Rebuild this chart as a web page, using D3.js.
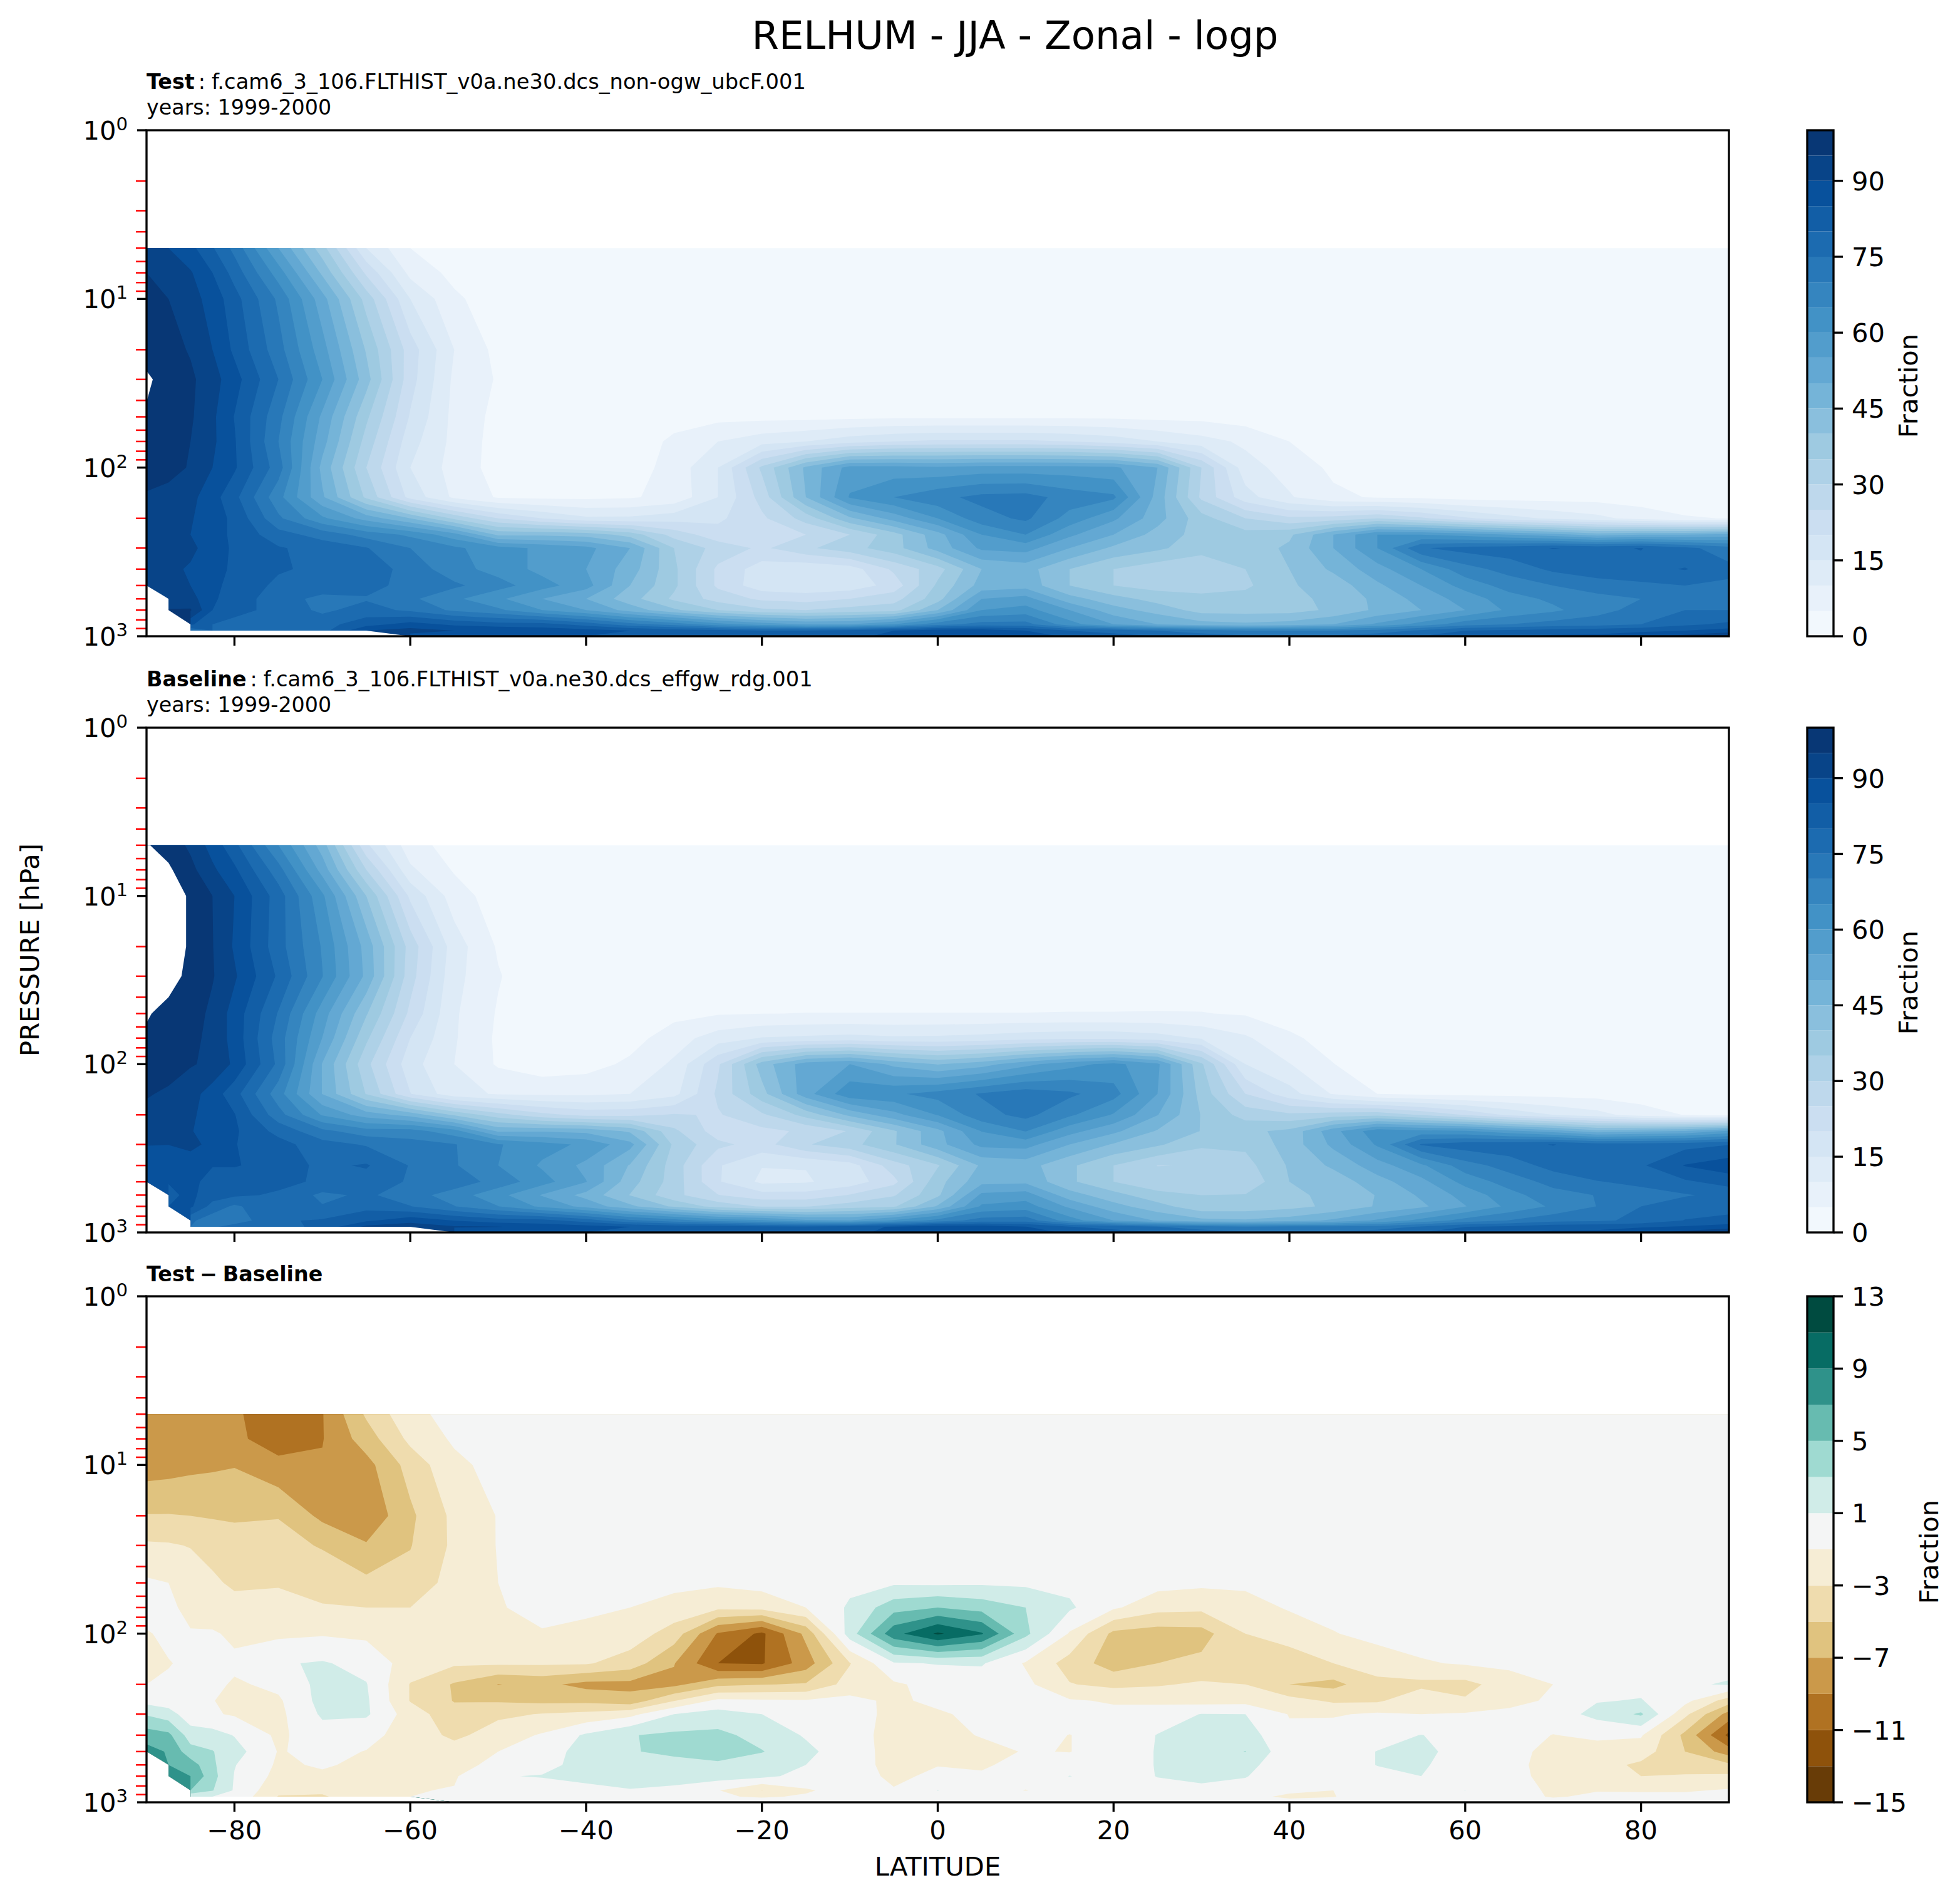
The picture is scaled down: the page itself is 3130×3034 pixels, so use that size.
<!DOCTYPE html>
<html><head><meta charset="utf-8">
<style>html,body{margin:0;padding:0;background:#fff}svg{display:block}text{font-family:"DejaVu Sans";fill:#000}</style>
<script src="https://cdn.jsdelivr.net/npm/d3@7"></script></head><body>
<script>
const latitudes=[-90,-87.5,-85,-82.5,-80,-75,-70,-65,-60,-55,-50,-45,-40,-35,-30,-25,-20,-15,-10,-5,0,5,10,15,20,25,30,35,40,45,50,55,60,65,70,75,80,85,90];
const pressureLevels=[5,7,10,20,30,50,70,100,150,200,250,300,400,500,600,700,850,925,1000];
const testValues=[
[93,90,86.5,80.5,73.5,55,37,15,5,2.5,1,1,1,1,1,1,1,1,1,1,1,1,1,1,1,1,1,1,1,1,1,1,1,1,1,1,1,1,1],
[95,93,90.5,85,78,62.5,44,24,8.5,3.5,1.5,1,1,1,1,1,1,1,1,1,1,1,1,1,1,1,1,1,1,1,1,1,1,1,1,1,1,1,1],
[97.6,95,92,88,82,69,52,33,15,6,2,1,1,1,1,1,1,1,1,1,1,1,1,1,1,1,1,1,1,1,1,1,1,1,1,1,1,1,1],
[98.5,97,94.5,90,84,72,57,39.5,22.5,10,3.5,1,1,1,1,1,1,1,1,1,1,1,1,1,1,1,1,1,1,1,1,1,1,1,1,1,1,1,1],
[100.6,98.5,96,92,87,75,60,42,22,9,4.5,1,1,1,1,1,1,1,1,1,1,1,1,1,1,1,1,1,1,1,1,1,1,1,1,1,1,1,1],
[99.6,98,95.7,91,84.8,71.5,54,36,19.5,8.5,3.5,1.2,1,1.5,3,3.5,3.5,3.5,3.8,4,4,4,4,4,4,3.5,3.5,2.5,2,1.2,1,1,1,1,1,1,1,1,1],
[99.5,97.5,95,91,85.5,70,52,33,17,8.5,3,1.2,1,2,6,10,13,15,18,20,21,21,21,20,18,15,12,9,5,3,1.5,1,1,1,1,1,1,1,1],
[99,97,94.5,90,85.7,72.4,48.5,30,15,8,3,1.2,1.2,2.5,7,15,31,46,57,57,56,57,57,57,56,50,30,12,8,4,2,1,1,1,1,1,1,1,1],
[94,93,91.5,87,81.5,66.7,50.8,34,18.3,9,4.5,4,4,4.5,6.5,15,27,45,60.5,65,68.5,71.5,72,68,66,48,29,17,10.5,6,4.5,4,3,3,3,3,2.5,2,2],
[92.5,91,90.5,87,84,71,61,53,45,34,25,20,16,16,18,19,24,32,44,52,60,68,71,63,56,47,37,30,26,27,30,26,21,17,14,11.5,8,5.5,4.8],
[90.5,90.5,90,87,84,77,73,68,64,57,44,44,43,38,28,22,23,25,30,38,48,60,65,56,50,43,38,37,39,50,60,60,58,55,52,48,50,50,52],
[93,92,91,88,84,80.5,78,75.3,70,66,62,59,56.5,50,35,28,24,29,33,38,47,56,57,50,44,41,37,37,41,50,60,74.5,77,78,80.2,79,80.2,76.5,72],
[93,91,89.5,87,84,80.5,79,78,73,67,63,58.5,55,47.5,36,24,17.5,16,17.5,26,33,45,47,40,35,32,31,35,40,46,53,60,68,72,76,77.5,78.5,80.3,76.5],
[93,92,90,86.5,83,79,79,77,73,71,67,62,57,45,36,24,17,16,17,22,36,47,48,40,35,33,32,34,39.5,42,49,55,62,67,70,73,74,75,74],
[null,91,92,86,82,78,73,74.5,71,66,61,55,50,42,34,28,24,23,25,28,38,55,57,47,42,38,37,37,37.8,42,46,52,57,63,66,68,70,71,72],
[null,95.5,95.5,85,82,78,74,77,74,69,66,60,55,48,41,35,31,30,32,33,45,60,62,55,47,43,38,38,38,41,46,50,55,61,64,68,72,75,75],
[null,null,86,80,78,77,78,83,87,84,82,82,78,72,68,62,58,55,55,60,68,72,72,62,55,50,47,46,47,50,56,62,68,70,72,73,75,79,81],
[null,null,76,80,78,75,78,90,92,90,90,88,87,85,83,82,80,80,82,85,88,88,85,80,78,75,72,70,70,70,72,76,80,81,82,83,84,85,87],
[null,null,null,null,null,null,null,null,88,87,86,86,85,84,83,82,82,82,84,86,88,90,88,84,82,80,78,76,76,76,78,80,84,84,86,86,88,92,96]];
const baselineValues=[
[100.4,98,94,88,81.5,65,47.5,21,7,3,1.2,1,1,1,1,1,1,1,1,1,1,1,1,1,1,1,1,1,1,1,1,1,1,1,1,1,1,1,1],
[101.5,100.8,96.5,91,86,72,53,30,11,4.5,1.8,1,1,1,1,1,1,1,1,1,1,1,1,1,1,1,1,1,1,1,1,1,1,1,1,1,1,1,1],
[104,102,99.5,95,90,77.5,61,40,19,7.5,2.3,1,1,1,1,1,1,1,1,1,1,1,1,1,1,1,1,1,1,1,1,1,1,1,1,1,1,1,1],
[103.4,102,99.5,95.2,89.4,77.1,64.5,48.1,27.9,12.5,4.4,1.2,1,1,1,1,1,1,1,1,1,1,1,1,1,1,1,1,1,1,1,1,1,1,1,1,1,1,1],
[103.3,101.3,99.1,95.4,90.7,79.2,65.2,48.8,27.1,11.6,5.4,1.2,1,1,1,1,1,1,1,1,1,1,1,1,1,1,1,1,1,1,1,1,1,1,1,1,1,1,1],
[100.3,99,97.5,93.8,88,74.6,57.5,40.5,23.8,10.7,4.5,1.4,1.1,1.2,3.5,4.6,4.9,5.1,5.1,5.1,5.1,5.1,5.1,5.2,5.2,5.3,5.2,4.5,3,1.5,1,1,1,1,1,1,1,1,1],
[99.5,98.2,96.4,93.6,88.1,72.6,54.9,36,20,10.5,4.1,1.8,1.7,3,7.7,12.5,15.3,16,16.7,15.8,16,16.8,18,18.7,18.7,17.3,14.5,10.8,5.8,3.3,1.6,1,1,1,1,1,1,1,1],
[99.5,97.5,95.4,94,89,73.8,49.7,31.4,17,10,4.4,2,3,6,10.9,24.2,42.4,52.5,55,48.7,44.7,47.8,53.5,58.2,61.5,56,35.8,15,10.2,5.1,2.4,1.1,1,1,1,1,1,1,1],
[95.5,94.1,92.1,87.6,82,67.2,49.8,34.7,20.2,11.7,9.5,9,9,10,13.4,26,38.2,53,63.6,64.2,66.9,70.5,73,71,67,55,38,25,17,9.5,5,4,3.5,3.5,3.2,3,2.5,1.9,1.8],
[93.5,91.7,91,87.4,85.3,72,59.5,52.6,48.1,39.2,32,26.5,23.6,23.6,25.5,24.5,29.1,36.8,46.2,53.3,60.3,68.2,71.5,65.9,59.5,50.2,39.7,33,31,32.6,33.6,29.5,24.6,19,15,11.9,7.5,4.8,3.6],
[90.2,90.6,90.3,87.9,85.8,78.3,71.4,67.1,67.1,62.1,49.2,49.5,48.5,44.2,31.1,22.5,23.7,25.8,30.4,39.4,48.5,60.2,65.2,56.8,51.2,44.5,39.8,38.7,41.3,53.3,63.3,61.6,60.8,56.6,52.7,47.1,48.9,50.4,56],
[90.2,90.1,91.2,88.8,85.2,82,76.9,74.5,72,70.3,65.4,61.9,59,51.6,34,26.2,23,29.5,33.2,39.5,48.3,56.4,57,50,44.5,40.8,36,36,42.1,51.2,60.7,75.5,77.8,78.5,80.2,77.4,77.4,78.3,79.8],
[87,85.5,87.5,85.2,85.5,82.3,79,80.5,74.7,70.5,65,59.3,53.7,44.6,32.6,20.5,15.2,15.2,17.8,27.6,34.5,45.9,47.1,41,35,29.9,30.2,33.2,40.6,46,52.8,59,67.8,72.2,76.9,78.1,79.3,85.3,88],
[85.2,85.2,86.2,83.4,81.2,81.3,79.2,78,74.4,73,68,62,55.2,42.1,32.7,20.5,13.9,14.5,17.2,23.6,38,48.5,48.9,41,35,31.6,30.5,31,40,42,48,53.5,61.8,67.2,71.7,74.8,76,79.2,82],
[null,84,86,82.6,80.9,79.3,73.8,75.9,72.3,67.5,61.6,54.6,48.3,39.8,31.5,25.2,22.1,22,25.3,29.5,39,56.2,57.5,47.2,42,36.6,35,35.3,38.3,42,45.2,50.8,56.8,63.2,68,70.2,73.4,74.5,76.6],
[null,85,86,78,74,79.6,75.3,78.3,75.2,70.2,65.1,58.9,53.4,46.2,39.1,33.1,29.5,29.7,32.3,34.3,45.7,60.8,62.3,54,46.8,42,36.5,37,38.3,41.2,45.5,49,54.8,61.2,65.8,70.1,75,77.8,77.6],
[null,null,76,72,72,79.5,80.5,84.1,88.1,84.9,82.3,81.8,77.6,71.1,67.5,62.9,61,56.2,55.3,60.9,67,72.3,73,62.3,55,49.5,46.5,45.7,47.5,51,55.8,61.7,67,70.2,73.3,74.1,76.2,80.2,81.8],
[null,null,75,74,77.5,78.1,81.3,91.3,93,90.5,90.2,88.2,87.2,85,83,82.8,81.2,80.8,82.3,85.7,88.2,88.2,85.2,80.2,78.2,75.2,72.1,70.2,71.5,71.1,71.7,75.7,79.9,81.1,83.2,83.6,84.5,85.5,87.3],
[null,null,null,null,null,null,null,null,null,87,86,86,85,84,83,82,82,82,84,86,88,90,88,84,82,80,78,76,76,76,78,80,84,84,86,86,88,92,96]];
const differenceValues=[
[-8,-8.2,-8.4,-8.6,-8.8,-9.8,-9.1,-4.7,-1.5,-.4,-.1,0,0,0,0,0,0,0,0,0,0,0,0,0,0,0,0,0,0,0,0,0,0,0,0,0,0,0,0],
[-8,-8,-8,-8.2,-8.6,-9.9,-9.1,-6,-2.5,-.7,-.2,0,0,0,0,0,0,0,0,0,0,0,0,0,0,0,0,0,0,0,0,0,0,0,0,0,0,0,0],
[-8,-7.8,-7.5,-7.3,-7.1,-8.5,-8.8,-7.7,-4.2,-1.5,-.3,0,0,0,0,0,0,0,0,0,0,0,0,0,0,0,0,0,0,0,0,0,0,0,0,0,0,0,0],
[-4.9,-4.9,-5,-5.2,-5.4,-5.1,-7.5,-8.6,-5.4,-2.5,-.9,-.2,0,0,0,0,0,0,0,0,0,0,0,0,0,0,0,0,0,0,0,0,0,0,0,0,0,0,0],
[-2.7,-2.8,-3.1,-3.4,-3.7,-4.2,-5.2,-6.8,-5.1,-2.6,-.9,-.2,0,0,0,0,0,0,0,0,0,0,0,0,0,0,0,0,0,0,0,0,0,0,0,0,0,0,0],
[-.7,-1,-1.8,-2.8,-3.2,-3.1,-3.5,-4.5,-4.3,-2.2,-1,-.2,-.1,-.1,-.5,-.7,-.3,-.2,.5,.7,.6,.7,.6,.5,-.1,-.3,-.6,-.6,-.3,-.1,0,0,0,0,0,0,0,0,0],
[0,-.7,-1.4,-2.6,-2.6,-2.6,-2.9,-3,-3,-2,-1.1,-.6,-.7,-1,-1.7,-2.5,-2.3,-1,1.3,4.2,5,4.2,3,1.3,-.7,-2.3,-2.5,-1.8,-.8,-.3,-.1,0,0,0,0,0,0,0,0],
[-1.2,-.5,-.9,-.7,-1.5,-1.4,-1.2,-1.4,-2,-2,-1.4,-1.1,-1.4,-1.9,-3.9,-9.2,-11.4,-6.5,2,8.3,11.3,9.2,3.5,-1.2,-5.5,-6,-5.8,-3,-2.2,-1.1,-.4,-.1,0,0,0,0,0,0,0],
[-1.5,-1.1,-.6,-.6,-.5,.8,1.2,.3,-1.9,-2.7,-2.7,-2.7,-2.8,-3.9,-6.9,-11,-11.2,-8,-3.1,.8,1.1,1.2,-1.2,-3.8,-6,-5,-4.5,-4.6,-4,-3,-2,-1.2,-.8,-.5,-.2,0,0,.1,.2],
[-1,-.7,-.5,-.4,-1.3,-.5,1.6,1.1,-3.1,-5.2,-7.05,-6.5,-7.6,-7.6,-7.5,-5.5,-5.1,-4.8,-2.2,-1.3,-.3,-.2,-.5,-2.9,-3.5,-3.2,-2.7,-3,-5,-5.6,-3.6,-3.5,-3.6,-2,-1,-.4,.5,.7,1.2],
[.3,-.1,-.3,-.9,-1.8,-1.3,1.7,1.3,-3.1,-5.1,-5.2,-5.5,-5.5,-6.2,-3.1,-.5,-.7,-.8,-.4,-1.4,-.5,-.2,-.2,-.8,-1.2,-1.5,-1.8,-1.7,-2.3,-3.3,-3.3,-1.6,-2.8,-1.6,-.7,.9,1.1,-.4,-4],
[2.8,1.9,-.2,-.8,-1.2,-1.5,1.3,1.3,-2,-4.3,-3.4,-2.9,-2.5,-1.6,1,1.8,1,-.5,-.2,-1.5,-1.3,-.4,0,0,-.5,.2,1.05,1,-1.1,-1.2,-.7,-1,-.8,-.5,0,1.6,3.3,-2.5,-7.8],
[6,5.5,2,1.8,.9,-1.4,.2,-.5,-1.7,-3.5,-2,-.8,1.3,2.9,3.4,3.5,2.3,.8,-.3,-1.6,-1.5,-.9,-.1,-1.05,0,1.05,1.9,1.9,-.6,0,.2,1.05,.2,-.2,-1.05,-.6,-.8,-5.5,-11.5],
[7.8,6.8,3.8,3.1,1.8,-1.1,-.6,-1.05,-1.4,-2,-1,0,1.8,2.9,3.3,3.5,3.1,1.5,-.2,-1.6,-2,-1.5,-.9,-1.05,0,1.1,2,3.05,-.5,0,1.05,1.5,.2,-.2,-1.7,-1.8,-2,-5,-8],
[null,7,6,3.4,1.1,-1.3,-.8,-1.4,-1.3,-1.5,-.6,.4,1.7,2.2,2.5,2.8,1.9,1,-.3,-1.5,-1.05,-1.2,-.5,-.2,0,1.1,2,1.7,-.5,0,1.05,1.2,.2,-.2,-2,-2.2,-3.4,-4,-4.6],
[null,7,7,3.7,.9,-1.6,-1.3,-1.3,-1.2,-1.2,.9,1.1,1.6,1.8,1.9,1.9,1.5,.3,-.3,-1.3,-.7,-.8,-.3,1.05,.2,1.05,1.5,1.1,-.3,-.2,.5,1,.2,-.2,-1.8,-2.1,-3,-2.8,-2.6],
[null,null,5,3.1,.8,-2.5,-2.5,-1.1,-1.1,-.9,-.3,.2,.4,.9,.5,-.9,-3.05,-1.2,-.3,-.9,1.05,-.3,-1.05,-.3,0,.5,.5,.3,-.5,-1,.2,.3,1.02,-.2,-1.3,-1.1,-1.2,-1.2,-.8],
[null,null,1,1,.5,-3.1,-3.3,-1.3,-1,-.5,-.2,-.2,-.2,0,0,-.8,-1.2,-.8,-.3,-.7,-.2,-.2,-.2,-.2,-.2,-.2,-.1,-.2,-1.5,-1.1,.3,.3,.1,-.1,-1.2,-.6,-.5,-.5,-.3],
[null,null,null,null,null,null,null,null,null,0,0,0,0,0,0,0,0,0,0,0,0,0,0,0,0,0,0,0,0,0,1.05,.8,1.05,0,0,0,0,0,0]];
const latTicks=[-80,-60,-40,-20,0,20,40,60,80];
const minorPressureTicks=[2,3,4,5,6,7,8,9,20,30,40,50,60,70,80,90,200,300,400,500,600,700,800,900];
const majorPressureTicks=[1,10,100,1000];
const fractionLevels=d3.range(0,101,5);
const fractionTicks=[0,15,30,45,60,75,90];
const differenceLevels=d3.range(-15,14,2);
const differenceTicks=[-15,-11,-7,-3,1,5,9,13];
const bluesStops=['#f7fbff','#deebf7','#c6dbef','#9ecae1','#6baed6','#4292c6','#2171b5','#08519c','#08306b'];
const brbgStops=['#543005','#8c510a','#bf812d','#dfc27d','#f6e8c3','#f5f5f5','#c7eae5','#80cdc1','#35978f','#01665e','#003c30'];

const W=3130,H=3034,L=234,R=2761,LW=3.33;
const FS_TICK=41.67,FS_CB=41.67,FS_LAB=41.67,FS_SUB=33.33;
const NODATA=1e5;
const svg=d3.select('body').append('svg').attr('width',W).attr('height',H);
svg.append('rect').attr('width',W).attr('height',H).attr('fill','#fff');
const x=d3.scaleLinear().domain([-90,90]).range([L,R]);
const blues=d3.scaleLinear().domain(bluesStops.map((_,i)=>i/8)).range(bluesStops);
const brbg=d3.scaleLinear().domain(brbgStops.map((_,i)=>i/10)).range(brbgStops);
const blueColor=v=>blues(v/100);
const divColor=v=>brbg((v<0?0.5+v/30:0.5+v/26)+.003);

function panel(top,bottom,rows,levels,color,ticks,cfg){
  if(rows.length!==pressureLevels.length||rows.some(r=>r.length!==latitudes.length))
    throw new Error('bad grid '+cfg.name+' '+rows.map(r=>r.length).join(','));
  const y=d3.scaleLog().domain([1,1000]).range([top,bottom]);
  const g=svg.append('g');
  const n=latitudes.length,m=pressureLevels.length;
  const gx=d3.scaleLinear().domain(latitudes.map((_,i)=>i+.5)).range(latitudes.map(d=>x(d))).clamp(true);
  const gy=d3.scaleLinear().domain(pressureLevels.map((_,i)=>i+.5)).range(pressureLevels.map(d=>y(d))).clamp(true);
  const flat=rows.flat().map(v=>v===null?NODATA:v);
  const contours=d3.contours().size([n,m]).thresholds(levels)(flat);
  const path=d3.geoPath(d3.geoTransform({point(a,b){this.stream.point(gx(a),gy(b));}}));
  g.selectAll('path.band').data(contours).join('path').attr('class','band')
    .attr('d',path)
    .attr('fill',(d,i)=>i<levels.length-1?color((levels[i]+levels[i+1])/2):'#fff');
  const ax=svg.append('g');
  ax.selectAll('line.minor').data(minorPressureTicks).join('line').attr('class','minor')
    .attr('x1',L-17).attr('x2',L).attr('y1',d=>y(d)).attr('y2',d=>y(d)).attr('stroke','#f00').attr('stroke-width',2.5);
  ax.selectAll('line.major').data(majorPressureTicks).join('line').attr('class','major')
    .attr('x1',L-15).attr('x2',L).attr('y1',d=>y(d)).attr('y2',d=>y(d)).attr('stroke','#000').attr('stroke-width',LW);
  const yl=ax.selectAll('text.yl').data(majorPressureTicks).join('text').attr('class','yl')
    .attr('text-anchor','end').attr('x',L-30).attr('y',d=>y(d)+15).attr('font-size',FS_TICK);
  yl.append('tspan').text('10');
  yl.append('tspan').text(d=>Math.round(Math.log10(d))).attr('font-size',FS_TICK*.7).attr('dy',-15);
  ax.selectAll('line.xt').data(latTicks).join('line').attr('class','xt')
    .attr('x1',d=>x(d)).attr('x2',d=>x(d)).attr('y1',bottom).attr('y2',bottom+15).attr('stroke','#000').attr('stroke-width',LW);
  if(cfg.xlabels){
    ax.selectAll('text.xl').data(latTicks).join('text').attr('class','xl')
      .attr('x',d=>x(d)).attr('y',bottom+59).attr('text-anchor','middle').attr('font-size',FS_TICK)
      .text(d=>d<0?'\u2212'+(-d):d);
  }
  ax.append('rect').attr('x',L).attr('y',top).attr('width',R-L).attr('height',bottom-top)
    .attr('fill','none').attr('stroke','#000').attr('stroke-width',LW);
  const CL=2886,CR=2928;
  const cy=d3.scaleLinear().domain([levels[0],levels[levels.length-1]]).range([bottom,top]);
  const cb=svg.append('g');
  cb.selectAll('rect.cb').data(levels.slice(0,-1)).join('rect').attr('class','cb')
    .attr('x',CL).attr('width',CR-CL)
    .attr('y',(d,i)=>cy(levels[i+1])).attr('height',(d,i)=>cy(levels[i])-cy(levels[i+1]))
    .attr('fill',(d,i)=>color((levels[i]+levels[i+1])/2));
  cb.append('rect').attr('x',CL).attr('y',top).attr('width',CR-CL).attr('height',bottom-top)
    .attr('fill','none').attr('stroke','#000').attr('stroke-width',LW);
  cb.selectAll('line.ct').data(ticks).join('line').attr('class','ct')
    .attr('x1',CR).attr('x2',CR+15).attr('y1',d=>cy(d)).attr('y2',d=>cy(d)).attr('stroke','#000').attr('stroke-width',LW);
  cb.selectAll('text.ctl').data(ticks).join('text').attr('class','ctl')
    .attr('x',CR+29).attr('y',d=>cy(d)+15).attr('font-size',FS_CB)
    .text(d=>d<0?'\u2212'+(-d):d);
  svg.append('text').attr('font-size',FS_LAB).attr('text-anchor','middle')
    .attr('transform',`translate(${cfg.cbLabelX},${(top+bottom)/2+4}) rotate(-90)`).text('Fraction');
}
function subtitle(yy,bold,rest,years){
  const t=svg.append('text').attr('x',L).attr('y',yy).attr('font-size',FS_SUB);
  const b=t.append('tspan').attr('font-weight','bold').text(bold);
  if(!rest)b.attr('word-spacing',-3);
  if(rest){t.append('tspan').attr('dx',6).text(':');t.append('tspan').attr('dx',10).attr('font-size',33.75).text(rest);}
  if(years)svg.append('text').attr('x',L).attr('y',yy+41).attr('font-size',FS_SUB).text(years);
}
panel(208,1016,testValues,fractionLevels,blueColor,fractionTicks,{name:'test',xlabels:false,cbLabelX:3062});
panel(1162,1968,baselineValues,fractionLevels,blueColor,fractionTicks,{name:'base',xlabels:false,cbLabelX:3062});
panel(2070,2878,differenceValues,differenceLevels,divColor,differenceTicks,{name:'diff',xlabels:true,cbLabelX:3095});
svg.append('text').attr('x',1621).attr('y',78).attr('text-anchor','middle').attr('font-size',62.5).text('RELHUM - JJA - Zonal - logp');
subtitle(142,'Test','f.cam6_3_106.FLTHIST_v0a.ne30.dcs_non-ogw_ubcF.001','years: 1999-2000');
subtitle(1096,'Baseline','f.cam6_3_106.FLTHIST_v0a.ne30.dcs_effgw_rdg.001','years: 1999-2000');
subtitle(2046,'Test \u2212 Baseline');
svg.append('text').attr('x',(L+R)/2).attr('y',2995).attr('text-anchor','middle').attr('font-size',FS_LAB).text('LATITUDE');
svg.append('text').attr('font-size',FS_LAB).attr('text-anchor','middle')
  .attr('transform','translate(62,1517) rotate(-90)').text('PRESSURE [hPa]');
</script></body></html>
